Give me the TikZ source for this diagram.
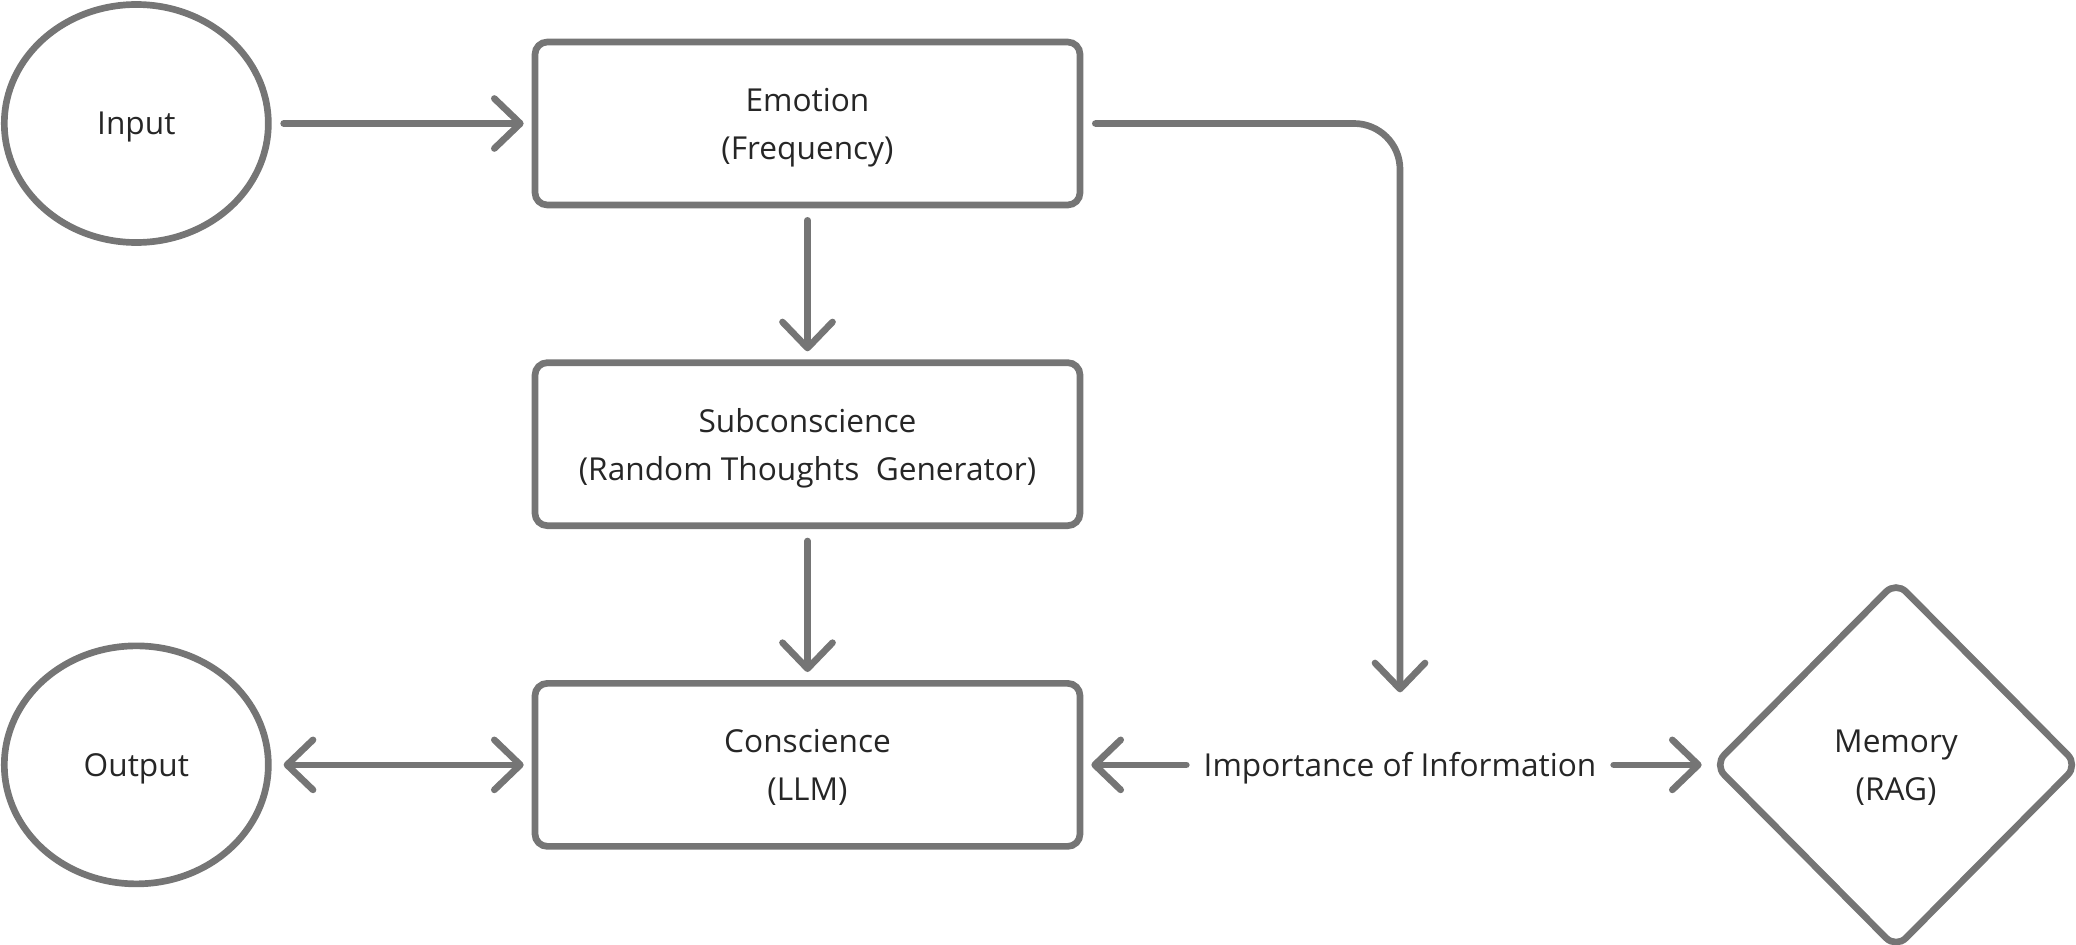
\documentclass[tikz,border=0pt]{standalone}
\usepackage{fontspec}
\setmainfont{Open Sans}
\usetikzlibrary{positioning,arrows.meta,shapes.geometric}
\definecolor{linegray}{HTML}{757575}
\definecolor{textgray}{HTML}{262626}

\begin{document}
\begin{tikzpicture}[
      every node/.style={text=textgray, text depth=0pt, font=\fontsize{9}{13.6}\selectfont},
      box/.style={draw=linegray, line width=1.9pt, rounded corners=3.5pt, align=center,
                  minimum width=5.45cm, minimum height=1.63cm},
      blob/.style={draw=linegray, line width=1.9pt, ellipse,
                   minimum width=2.64cm, minimum height=2.38cm},
      store/.style={draw=linegray, line width=1.9pt, diamond, rounded corners=4pt,
                    align=center, minimum width=3.66cm, minimum height=3.69cm, inner sep=0pt},
      link/.style={draw=linegray, line width=1.9pt, line cap=round,
                   shorten <=1.2mm, shorten >=0.8mm},
      >={Straight Barb[length=2.6mm, width=5mm, round]}, node distance=1.51cm]
    \useasboundingbox (0,0) rectangle (20.76,-9.44);
    \node[box] (emo) at (8.075,-1.235) {Emotion\\(Frequency)};
    \node[box, below=of emo] (sub) {Subconscience\\(Random Thoughts\ \ Generator)};
    \node[box, below=of sub] (con) {Conscience\\(LLM)};
    \node[blob, left=2.6cm of emo] (in) {Input};
    \node[blob, left=2.6cm of con] (out) {Output};
    \coordinate (impx) at (14.0,0);
    \coordinate (memx) at (18.96,0);
    \node (imp) at (impx |- con) {Importance of Information};
    \node[store] (mem) at (memx |- con) {Memory\\(RAG)};
    \draw[link, ->] (in) -- (emo);
    \draw[link, ->] (emo) -- (sub);
    \draw[link, ->] (sub) -- (con);
    \draw[link, <->] (out) -- (con);
    \draw[link, ->, rounded corners=4.6mm, shorten >=4.8mm] (emo.east) -| (imp.north);
    \draw[link, ->, shorten <=0.5mm] (imp) -- (con);
    \draw[link, ->, shorten <=0.5mm] (imp) -- (mem);
  \end{tikzpicture}
\end{document}
